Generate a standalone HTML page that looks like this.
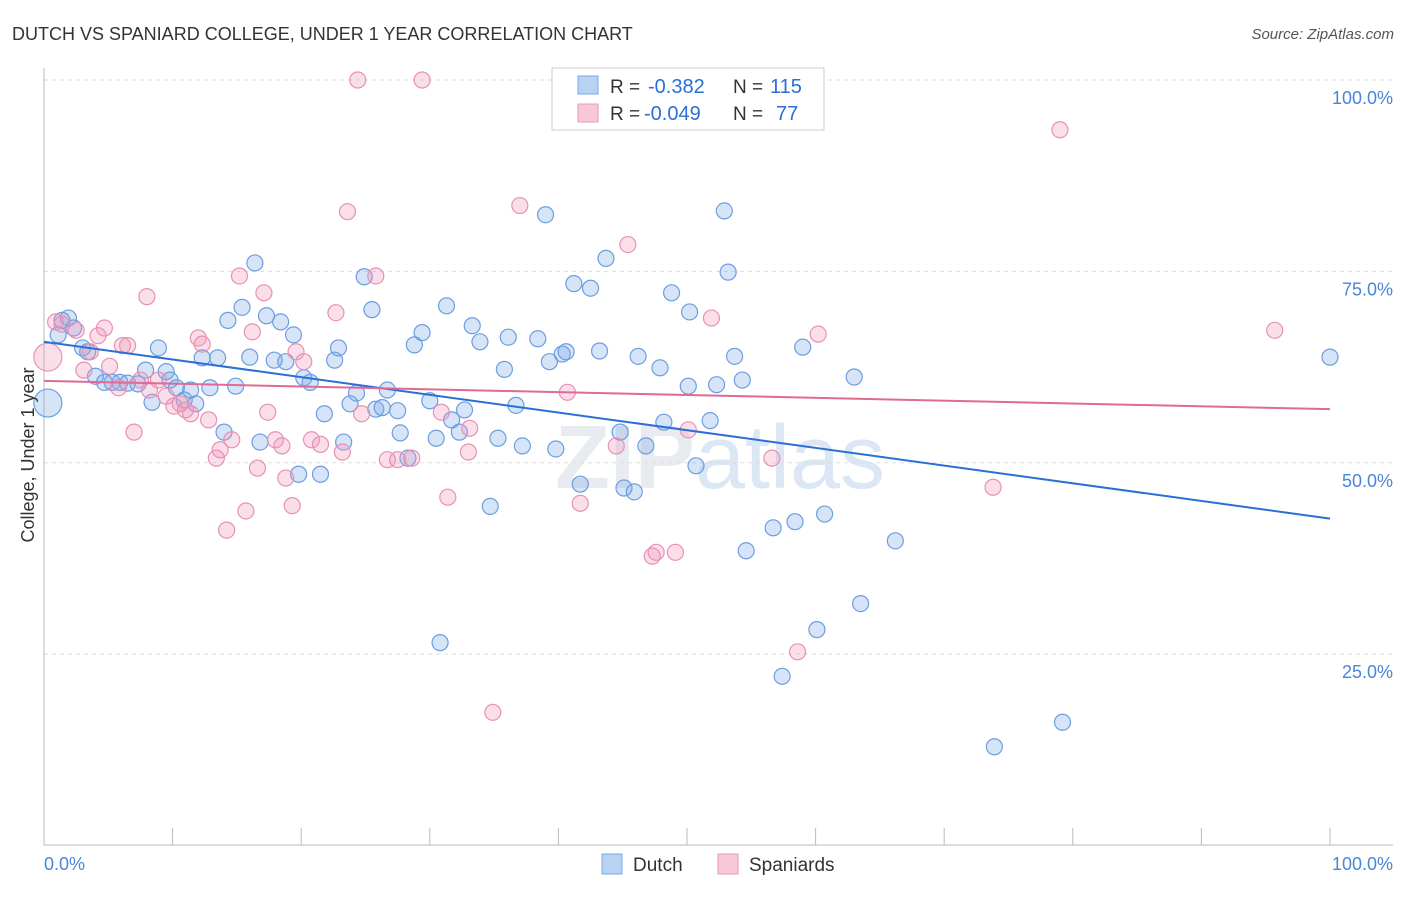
<!DOCTYPE html>
<html><head><meta charset="utf-8"><style>
body{margin:0;background:#fff;font-family:"Liberation Sans",sans-serif;}
svg text{font-family:"Liberation Sans",sans-serif;}
</style></head><body>
<svg id="chart" width="1406" height="892" xmlns="http://www.w3.org/2000/svg">
<text x="12" y="40" font-size="18" fill="#333">DUTCH VS SPANIARD COLLEGE, UNDER 1 YEAR CORRELATION CHART</text>
<text x="1394" y="39" font-size="15" fill="#555" text-anchor="end" font-style="italic">Source: ZipAtlas.com</text>
<text x="720" y="488" font-size="90" fill="#e8ebef" text-anchor="middle" font-weight="bold">ZIP<tspan font-weight="normal" fill="#dce7f5">atlas</tspan></text>
<g id="grid"></g>
<g id="axes"></g>
<g id="points"></g>
<g id="trends"></g>
<text transform="translate(34,455) rotate(-90)" font-size="18" fill="#333" text-anchor="middle">College, Under 1 year</text>
<g>
<rect x="552" y="68" width="272" height="62" fill="#fff" stroke="#ccc"/>
<rect x="578" y="76" width="20" height="18" fill="#b8d2f4" stroke="#7aa8e4"/>
<rect x="578" y="104" width="20" height="18" fill="#f8c8d8" stroke="#ec9ab6"/>
<text x="610" y="93" font-size="19" fill="#333">R =</text>
<text x="648" y="93" font-size="20" fill="#2a6fd6">-0.382</text>
<text x="733" y="93" font-size="19" fill="#333">N =</text>
<text x="770" y="93" font-size="20" fill="#2a6fd6">115</text>
<text x="610" y="120" font-size="19" fill="#333">R =</text>
<text x="644" y="120" font-size="20" fill="#2a6fd6">-0.049</text>
<text x="733" y="120" font-size="19" fill="#333">N =</text>
<text x="776" y="120" font-size="20" fill="#2a6fd6">77</text>
</g>
<g>
<rect x="602" y="854" width="20" height="20" fill="#b8d2f4" stroke="#7aa8e4"/>
<text x="633" y="871" font-size="19" fill="#333">Dutch</text>
<rect x="718" y="854" width="20" height="20" fill="#f8c8d8" stroke="#ec9ab6"/>
<text x="749" y="871" font-size="19" fill="#333">Spaniards</text>
</g>
</svg>
<script>
const yTicks=[25,50,75,100];
const yTickLabels=["25.0%","50.0%","75.0%","100.0%"];
const xTicks=[0,10,20,30,40,50,60,70,80,90,100];
const dutchX=[0.3,1.4,1.9,1.1,2.3,3.0,3.4,4.0,4.7,5.3,5.9,6.5,7.3,7.9,8.4,8.9,9.5,9.8,10.3,10.9,11.4,11.8,12.3,12.9,13.5,14.0,14.3,14.9,15.4,16.0,16.4,16.8,17.3,17.9,18.4,18.8,19.4,19.8,20.2,20.7,21.5,21.8,22.6,22.9,23.3,23.8,24.3,24.9,25.5,25.8,26.3,26.7,27.5,27.7,28.3,28.8,29.4,30.0,30.5,30.8,31.3,31.7,32.3,32.7,33.3,33.9,34.7,35.3,35.8,36.1,36.7,37.2,38.4,39.0,39.3,39.8,40.3,40.6,41.2,41.7,42.5,43.2,43.7,44.8,45.1,45.9,46.2,46.8,47.9,48.2,48.8,50.2,50.7,50.1,51.8,52.3,52.9,53.2,53.7,54.3,54.6,56.7,57.4,58.4,59.0,60.1,60.7,63.0,63.5,66.2,73.9,79.2,100.0];
const dutchY=[57.8,68.6,68.9,66.7,67.6,65.0,64.5,61.3,60.5,60.5,60.5,60.4,60.3,62.1,57.9,65.0,61.9,60.8,59.8,58.2,59.5,57.7,63.7,59.8,63.7,54.0,68.6,60.0,70.3,63.8,76.1,52.7,69.2,63.4,68.4,63.2,66.7,48.5,61.1,60.5,48.5,56.4,63.4,65.0,52.7,57.7,59.1,74.3,70.0,57.0,57.2,59.5,56.8,53.9,50.6,65.4,67.0,58.1,53.2,26.5,70.5,55.6,54.0,56.9,67.9,65.8,44.3,53.2,62.2,66.4,57.5,52.2,66.2,82.4,63.2,51.8,64.2,64.5,73.4,47.2,72.8,64.6,76.7,54.0,46.7,46.2,63.9,52.2,62.4,55.3,72.2,69.7,49.6,60.0,55.5,60.2,82.9,74.9,63.9,60.8,38.5,41.5,22.1,42.3,65.1,28.2,43.3,61.2,31.6,39.8,12.9,16.1,63.8];
const spanX=[0.3,0.9,1.4,2.5,3.1,3.6,4.2,4.7,5.1,5.8,6.1,6.5,7.0,7.5,8.0,8.2,8.9,9.5,10.1,10.6,11.0,11.4,12.0,12.3,12.8,13.4,13.7,14.2,14.6,15.2,15.7,16.2,16.6,17.1,17.4,18.0,18.5,18.8,19.3,19.6,20.2,20.8,21.5,22.7,23.2,23.6,24.4,24.7,25.8,26.7,27.5,28.6,29.4,30.9,31.4,33.0,33.1,34.9,37.0,40.7,41.7,44.5,45.4,47.3,47.6,49.1,49.3,50.1,51.9,56.6,58.6,60.2,73.8,79.0,95.7];
const spanY=[63.8,68.4,68.1,67.3,62.1,64.5,66.6,67.6,62.6,59.8,65.3,65.3,54.0,60.8,71.7,59.5,60.8,58.7,57.4,57.7,56.9,56.4,66.3,65.5,55.6,50.6,51.7,41.2,53.0,74.4,43.7,67.1,49.3,72.2,56.6,53.0,52.2,48.0,44.4,64.5,63.2,53.0,52.4,69.6,51.4,82.8,100,56.4,74.4,50.4,50.4,50.6,100,56.6,45.5,51.4,54.5,17.4,83.6,59.2,44.7,52.2,78.5,37.8,38.3,38.3,99.7,54.3,68.9,50.6,25.3,66.8,46.8,93.5,67.3];
const dutchTrend=[65.8,42.7];
const spanTrend=[60.7,57.0];
const NS="http://www.w3.org/2000/svg";
const X0=44,X1=1330,Y0=845.5,Y100=80;
function sx(v){return X0+(X1-X0)*v/100;}
function sy(v){return Y0+(Y100-Y0)*v/100;}
function mk(tag,attrs,parent){const e=document.createElementNS(NS,tag);for(const k in attrs)e.setAttribute(k,attrs[k]);parent.appendChild(e);return e;}
const grid=document.getElementById('grid'),axes=document.getElementById('axes'),pts=document.getElementById('points'),tr=document.getElementById('trends');
yTicks.forEach((t,i)=>{
 const l=mk('line',{x1:X0,x2:1393,y1:sy(t),y2:sy(t),stroke:'#ddd','stroke-dasharray':'4,4'},grid);
 
 
 const tx=mk('text',{x:1393,y:sy(t)+24,'font-size':18,fill:'#4a86d8','text-anchor':'end'},axes);
 tx.textContent=yTickLabels[i];
 
 
});
const xa=mk('line',{x1:X0,x2:1393,y1:845,y2:845,stroke:'#bbb'},axes);


const ya=mk('line',{x1:X0,x2:X0,y1:68,y2:845,stroke:'#bbb'},axes);


xTicks.forEach(t=>{
 const l=mk('line',{x1:sx(t),x2:sx(t),y1:828,y2:845,stroke:'#bbb'},axes);
 
 
});
const xl0=mk('text',{x:44,y:870,'font-size':18,fill:'#4a86d8'},axes);xl0.textContent='0.0%';


const xl1=mk('text',{x:1393,y:870,'font-size':18,fill:'#4a86d8','text-anchor':'end'},axes);xl1.textContent='100.0%';


function series(xs,ys,fill,stroke,name){
 xs.forEach((x,i)=>{
  const r=(i===0)?14:8;
  const c=mk('circle',{cx:sx(x),cy:sy(ys[i]),r:r,fill:fill,stroke:stroke,'stroke-width':1.2},pts);
  
  
 });
}
series(dutchX,dutchY,'rgba(120,165,230,0.3)','#6d9de0','dutch-point');
series(spanX,spanY,'rgba(240,150,185,0.3)','#e991b2','spaniard-point');
const bl=mk('line',{x1:sx(0),y1:sy(dutchTrend[0]),x2:sx(100),y2:sy(dutchTrend[1]),stroke:'#2a6fd6','stroke-width':2},tr);


const pl=mk('line',{x1:sx(0),y1:sy(spanTrend[0]),x2:sx(100),y2:sy(spanTrend[1]),stroke:'#e06a95','stroke-width':2},tr);


</script>
</body></html>
